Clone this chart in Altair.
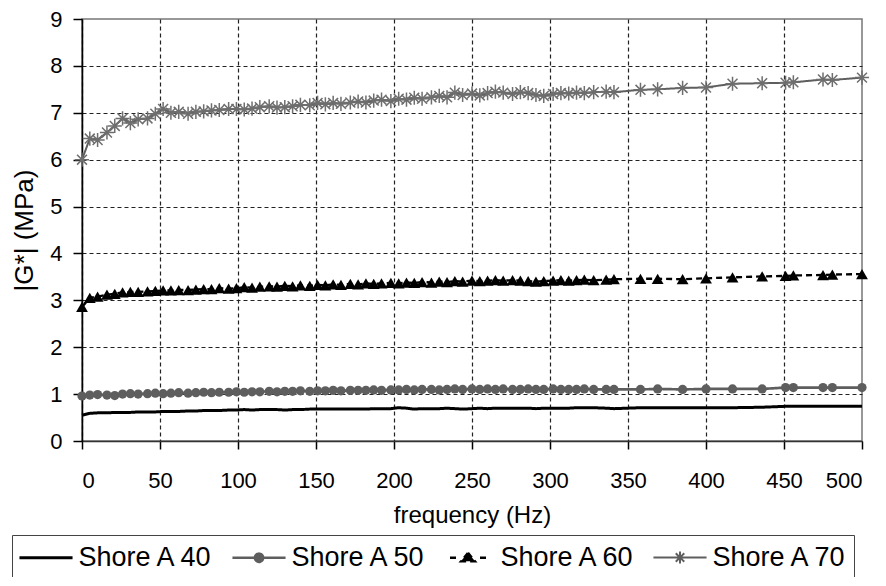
import altair as alt
import pandas as pd

# ---------------- data ----------------
freq = [0, 5, 10, 16, 21, 26, 31, 36, 42, 47,
        52, 57, 62, 68, 73, 78, 83, 88, 94, 99,
        104, 109, 114, 120, 125, 130, 135, 140, 146, 151,
        156, 161, 166, 172, 177, 182, 187, 192, 198, 203,
        208, 213, 218, 224, 229, 234, 239, 244, 250, 255,
        260, 265, 270, 276, 281, 286, 291, 296, 302, 307,
        312, 317, 322, 328, 336, 341,
        358, 369, 385, 400, 417, 436, 451, 456, 475, 481, 500]

shore40 = [0.55, 0.59, 0.60, 0.60, 0.61, 0.61, 0.61, 0.62, 0.62, 0.62,
           0.63, 0.63, 0.63, 0.64, 0.64, 0.65, 0.65, 0.65, 0.66, 0.66,
           0.67, 0.66, 0.67, 0.67, 0.67, 0.66, 0.67, 0.67, 0.68, 0.68,
           0.68, 0.68, 0.68, 0.68, 0.68, 0.68, 0.69, 0.69, 0.69, 0.71,
           0.70, 0.68, 0.69, 0.69, 0.69, 0.70, 0.69, 0.68, 0.69, 0.70,
           0.69, 0.70, 0.70, 0.70, 0.70, 0.70, 0.69, 0.70, 0.70, 0.70,
           0.70, 0.71, 0.71, 0.71, 0.70, 0.69,
           0.71, 0.71, 0.71, 0.71, 0.71, 0.72, 0.74, 0.74, 0.74, 0.74, 0.74]

shore50 = [0.96, 0.98, 0.99, 0.98, 0.97, 1.00, 1.01, 1.00, 1.01, 1.02,
           1.01, 1.02, 1.03, 1.02, 1.03, 1.04, 1.03, 1.04, 1.04, 1.05,
           1.04, 1.05, 1.05, 1.06, 1.05, 1.06, 1.06, 1.07, 1.06, 1.07,
           1.07, 1.08, 1.07, 1.08, 1.08, 1.08, 1.09, 1.08, 1.09, 1.09,
           1.10, 1.09, 1.10, 1.10, 1.09, 1.10, 1.11, 1.10, 1.11, 1.10,
           1.11, 1.10, 1.11, 1.10, 1.10, 1.11, 1.10, 1.10, 1.11, 1.10,
           1.10, 1.10, 1.11, 1.10, 1.10, 1.10,
           1.10, 1.11, 1.10, 1.11, 1.11, 1.11, 1.14, 1.14, 1.14, 1.14, 1.14]

shore60 = [2.86, 3.05, 3.08, 3.12, 3.14, 3.17, 3.18, 3.18, 3.19, 3.20,
           3.21, 3.21, 3.22, 3.22, 3.23, 3.24, 3.24, 3.26, 3.25, 3.26,
           3.28, 3.27, 3.29, 3.30, 3.29, 3.31, 3.30, 3.32, 3.31, 3.33,
           3.32, 3.34, 3.33, 3.35, 3.34, 3.36, 3.35, 3.36, 3.37, 3.36,
           3.38, 3.37, 3.39, 3.38, 3.40, 3.39, 3.41, 3.40, 3.42, 3.41,
           3.42, 3.43, 3.42, 3.43, 3.42, 3.41, 3.40, 3.41, 3.42, 3.43,
           3.42, 3.43, 3.44, 3.43, 3.44, 3.45,
           3.46, 3.46, 3.45, 3.47, 3.49, 3.51, 3.52, 3.53, 3.54, 3.55, 3.56]

shore70 = [6.00, 6.45, 6.42, 6.58, 6.72, 6.88, 6.78, 6.86, 6.88, 6.98,
           7.08, 7.00, 7.02, 6.98, 7.02, 7.03, 7.05, 7.06, 7.08, 7.08,
           7.07, 7.09, 7.12, 7.14, 7.11, 7.12, 7.14, 7.17, 7.16, 7.21,
           7.18, 7.21, 7.19, 7.22, 7.24, 7.22, 7.26, 7.28, 7.25, 7.30,
           7.28, 7.32, 7.30, 7.33, 7.36, 7.33, 7.43, 7.38, 7.41, 7.37,
           7.42, 7.45, 7.43, 7.40, 7.44, 7.42, 7.38, 7.36, 7.40, 7.42,
           7.41, 7.43, 7.42, 7.44, 7.45, 7.44,
           7.49, 7.50, 7.53, 7.54, 7.62, 7.63, 7.64, 7.65, 7.71, 7.70, 7.75]

series_names = ["Shore A 40", "Shore A 50", "Shore A 60", "Shore A 70"]
x_ticks = [0, 50, 100, 150, 200, 250, 300, 350, 400, 450, 500]
y_ticks = [0, 1, 2, 3, 4, 5, 6, 7, 8, 9]

# ---------------- table ----------------
rows = []
for name, vals in zip(series_names, [shore40, shore50, shore60, shore70]):
    for f, v in zip(freq, vals):
        rows.append({"freq": f, "value": v, "series": name})
df = pd.DataFrame(rows)

# ---------------- styling ----------------
FONT = "Liberation Sans"
line_colors = ["#000000", "#5e5e5e", "#000000", "#5e5e5e"]
asterisk = "M-1,0L1,0M0,-1L0,1M-0.7,-0.7L0.7,0.7M-0.7,0.7L0.7,-0.7"

# legend symbols: line sample + marker
legend_paths = [
    "M-1.77,0L1.77,0",
    "M-1.77,0L1.77,0M0.27,0A0.27,0.27,0,1,1,-0.27,0A0.27,0.27,0,1,1,0.27,0Z",
    "M-1.2,0L-0.8,0M0.8,0L1.2,0M0,-0.33L0.47,0.24L-0.47,0.24Z",
    "M-1.77,0L1.77,0M-0.4,0L0.4,0M0,-0.4L0,0.4M-0.28,-0.28L0.28,0.28M-0.28,0.28L0.28,-0.28",
]


def per_entry_expr(values):
    expr = "'%s'" % values[-1]
    for n, v in zip(reversed(series_names[:-1]), reversed(values[:-1])):
        expr = "datum.value === '%s' ? '%s' : (%s)" % (n, v, expr)
    return {"expr": expr}


x_enc = alt.X(
    "freq:Q",
    scale=alt.Scale(domain=[0, 500], nice=False),
    axis=alt.Axis(
        values=x_ticks, title="frequency (Hz)",
        titleFont=FONT, titleFontSize=24, titleFontWeight="normal", titleColor="#000",
        titleBaseline="alphabetic", titleY=81,
        labelFont=FONT, labelFontSize=22, labelColor="#000", labelPadding=21,
        tickSize=8, tickColor="#000", tickWidth=1.5,
        domainColor="#333", domainWidth=1.5,
        grid=True, gridColor="#222", gridDash=[4, 3], gridWidth=1.2,
        gridOpacity={"condition": {"test": "datum.value === 500", "value": 0}, "value": 1},
    ),
)
y_enc = alt.Y(
    "value:Q",
    scale=alt.Scale(domain=[0, 9], nice=False),
    axis=alt.Axis(
        values=y_ticks, title="|G*| (MPa)",
        titleFont=FONT, titleFontSize=26, titleFontWeight="normal", titleColor="#000",
        titleX=-58, titleBaseline="middle",
        labelFont=FONT, labelFontSize=22, labelColor="#000", labelPadding=11,
        tickSize=9, tickColor="#000", tickWidth=1.5,
        domainColor="#000", domainWidth=1.5,
        grid=True, gridColor="#222", gridDash=[4, 3], gridWidth=1.2,
        gridOpacity={"condition": {"test": "datum.value === 9", "value": 0}, "value": 1},
    ),
)

leg = alt.Legend(
    orient="none", legendX=-70, legendY=516, direction="horizontal", columns=4,
    title=None, labelFont=FONT, labelFontSize=27, labelColor="#000", labelLimit=300,
    symbolSize=900, symbolStrokeWidth=2.5, symbolOpacity=1,
    symbolOffset=11.5, labelOffset=16, columnPadding=13, padding=6,
    strokeColor="#444", fillColor="white",
    symbolType=per_entry_expr(legend_paths),
    symbolFillColor=per_entry_expr(line_colors),
    symbolStrokeColor=per_entry_expr(line_colors),
)

base = alt.Chart(df)

lines = base.mark_line(strokeJoin="round").encode(
    x=x_enc, y=y_enc,
    color=alt.Color("series:N", scale=alt.Scale(domain=series_names, range=line_colors), legend=leg),
    strokeDash=alt.StrokeDash("series:N", scale=alt.Scale(domain=series_names,
                              range=[[1, 0], [1, 0], [6, 4], [1, 0]]), legend=None),
    strokeWidth=alt.StrokeWidth("series:N", scale=alt.Scale(domain=series_names,
                                range=[3, 2, 2, 2.5]), legend=None),
    detail="series:N",
)

circles = base.transform_filter("datum.series === 'Shore A 50'").mark_point(
    shape="circle", filled=True, size=85, color="#5e5e5e", opacity=1
).encode(x="freq:Q", y="value:Q")

triangles = base.transform_filter("datum.series === 'Shore A 60'").mark_point(
    shape="triangle-up", filled=True, size=140, color="#000000", opacity=1
).encode(x="freq:Q", y="value:Q")

stars = base.transform_filter("datum.series === 'Shore A 70'").mark_point(
    shape=asterisk, filled=False, size=200, color="#6e6e6e", strokeWidth=1.5, opacity=1
).encode(x="freq:Q", y="value:Q")

chart = alt.layer(lines, circles, triangles, stars).properties(
    width=780, height=422,
    autosize=alt.AutoSizeParams(type="none"),
    padding={"left": 74, "top": 11, "right": 16, "bottom": 136},
    background="white",
).configure_view(stroke="#777777", strokeWidth=1.5)

chart.save("out.html", embed_options={"renderer": "svg", "actions": False})
